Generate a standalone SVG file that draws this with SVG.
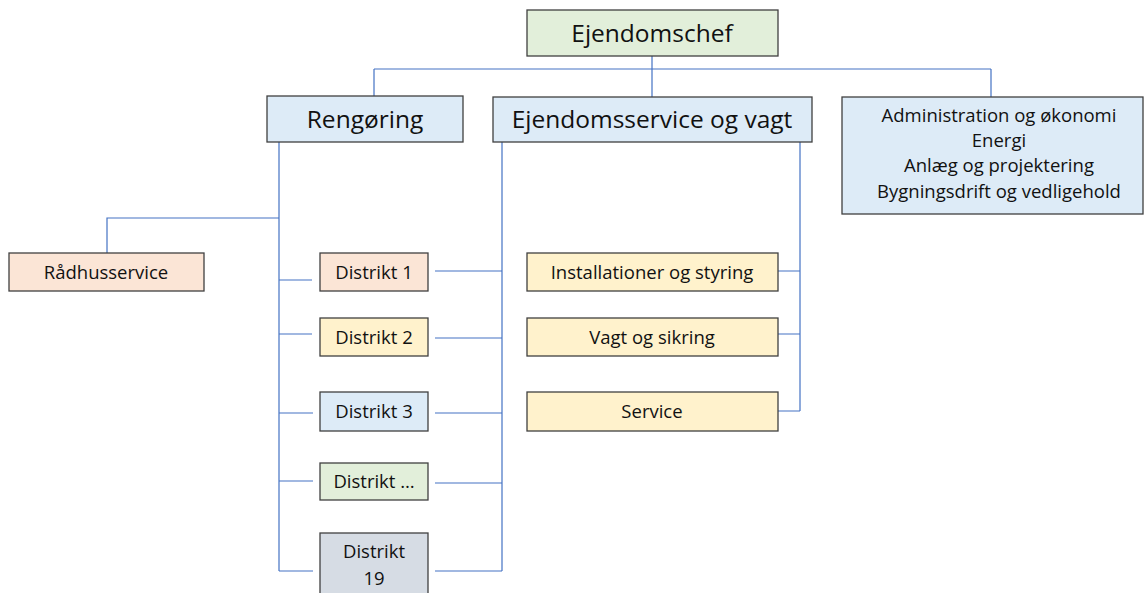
<svg xmlns="http://www.w3.org/2000/svg" width="1145" height="593" viewBox="0 0 1145 593">
<style>
.box{stroke:#404040;stroke-width:1.3}
.g{fill:#e2efda}.b{fill:#ddebf7}.p{fill:#fbe5d6}.y{fill:#fff2cc}.s{fill:#d6dce4}
text{font-family:"Open Sans","Noto Sans","Liberation Sans",sans-serif;fill:#111;text-anchor:middle}
.big{font-size:24.5px}.sm{font-size:18.5px}.md{font-size:18.5px}
.c{fill:none;stroke:#4472c4;stroke-width:1.2}
</style>
<rect width="1145" height="593" fill="#fff"/>
<g id="connectors">
<path class="c" d="M652 56V97M374 69H991M374 69V96M991 69V97"/>
<path class="c" d="M279 142V571M279 218H107V253M279 280H312M279 334H312M279 413H313M279 481H313M279 571H313"/>
<path class="c" d="M502 142V571M435 271H502M435 338H502M435 413H502M435 483H502M435 571H502"/>
<path class="c" d="M800 142V411M778 271H800M778 334H800M778 411H800"/>
</g>
<g id="ejendomschef"><rect class="box g" x="527" y="10" width="251" height="46"/><text class="big" x="652" y="42">Ejendomschef</text></g>
<g id="rengoring"><rect class="box b" x="267" y="96" width="196" height="46"/><text class="big" x="365" y="128">Rengøring</text></g>
<g id="ejendomsservice"><rect class="box b" x="493" y="97" width="319" height="45"/><text class="big" x="652" y="128">Ejendomsservice og vagt</text></g>
<g id="admin"><rect class="box b" x="842" y="97" width="301" height="117"/>
<text class="md" x="999" y="122">Administration og økonomi</text>
<text class="md" x="999" y="147">Energi</text>
<text class="md" x="999" y="172">Anlæg og projektering</text>
<text class="md" x="999" y="198">Bygningsdrift og vedligehold</text></g>
<g id="radhusservice"><rect class="box p" x="9" y="253" width="195" height="38"/><text class="sm" x="106" y="279">Rådhusservice</text></g>
<g id="distrikt1"><rect class="box p" x="320" y="253" width="108" height="38"/><text class="sm" x="374" y="279">Distrikt 1</text></g>
<g id="distrikt2"><rect class="box y" x="320" y="318" width="108" height="38"/><text class="sm" x="374" y="344">Distrikt 2</text></g>
<g id="distrikt3"><rect class="box b" x="320" y="392" width="108" height="39"/><text class="sm" x="374" y="418">Distrikt 3</text></g>
<g id="distriktx"><rect class="box g" x="320" y="463" width="108" height="37"/><text class="sm" x="374" y="488">Distrikt …</text></g>
<g id="distrikt19"><rect class="box s" x="320" y="533" width="108" height="66"/><text class="sm" x="374" y="558">Distrikt</text><text class="sm" x="374" y="585">19</text></g>
<g id="installationer"><rect class="box y" x="527" y="253" width="251" height="38"/><text class="sm" x="652" y="279">Installationer og styring</text></g>
<g id="vagt"><rect class="box y" x="527" y="318" width="251" height="38"/><text class="sm" x="652" y="344">Vagt og sikring</text></g>
<g id="service"><rect class="box y" x="527" y="392" width="251" height="39"/><text class="sm" x="652" y="418">Service</text></g>
</svg>
